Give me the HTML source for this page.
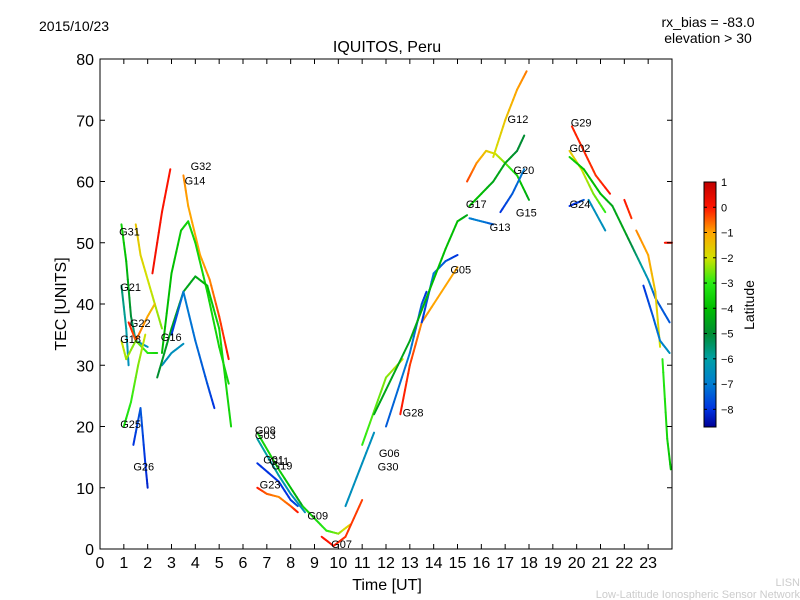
<!DOCTYPE html>
<html><head><meta charset="utf-8"><style>
html,body{margin:0;padding:0;background:#fff;width:800px;height:600px;overflow:hidden}
text{font-family:"Liberation Sans","DejaVu Sans",sans-serif}
</style></head><body>
<svg id="chart" width="800" height="600" viewBox="0 0 800 600" xmlns="http://www.w3.org/2000/svg">
<rect width="800" height="600" fill="#fff"/>
<text x="39" y="31" font-size="14">2015/10/23</text>
<text x="708" y="27" font-size="14" text-anchor="middle">rx_bias = -83.0</text>
<text x="708" y="43" font-size="14" text-anchor="middle">elevation &gt; 30</text>
<text x="387" y="52" font-size="16" text-anchor="middle">IQUITOS, Peru</text>
<g id="marks"></g>
<g id="labels"></g>
<rect x="100" y="59" width="572" height="490" fill="none" stroke="#000" stroke-width="1"/>
<g id="axes"></g>
<text x="387" y="590" font-size="16" text-anchor="middle">Time [UT]</text>
<text x="66" y="304" font-size="16" text-anchor="middle" transform="rotate(-90 66 304)">TEC [UNITS]</text>
<g id="cbar"></g>
<text x="754" y="305" font-size="14" text-anchor="middle" transform="rotate(-90 754 305)">Latitude</text>
<text x="800" y="586" font-size="11" fill="#ccc" text-anchor="end">LISN</text>
<text x="800" y="598" font-size="11" fill="#ccc" text-anchor="end">Low-Latitude Ionospheric Sensor Network</text>
</svg>
<script>
const xTicks=[0,1,2,3,4,5,6,7,8,9,10,11,12,13,14,15,16,17,18,19,20,21,22,23];
const yTicks=[0,10,20,30,40,50,60,70,80];
const cbTicks=[1,0,-1,-2,-3,-4,-5,-6,-7,-8];
// tracks: [times],[tec],[latitude]
const trackTimes=[
[2.2,2.6,2.95],
[3.5,3.7,4.2,4.6,5.0,5.4],
[2.6,3.0,3.4,3.7,4.0,4.5,5.0,5.4],
[0.9,1.1,1.3,1.5,2.0],
[1.5,1.7,2.0,2.3,2.6],
[0.9,1.1,1.2],
[1.2,1.5,2.0,2.3],
[0.9,1.1,1.5,2.0,2.4],
[2.6,3.0,3.5],
[2.4,3.0,3.5,4.0,4.5,5.0,5.5],
[3.0,3.5,4.0,4.5,4.8],
[1.0,1.3,1.6,1.9],
[1.4,1.7,1.9,2.0],
[6.6,7.5,8.0,8.5],
[6.6,7.5,8.0,8.6],
[6.6,7.5,8.0,8.3],
[6.6,7.0,7.5,8.0,8.3],
[8.5,9.0,9.5,10.0,10.5],
[9.3,9.8,10.3,11.0],
[10.3,11.0,11.5],
[11.0,12.0,12.7],
[12.6,13.0,13.5,14.0,15.0],
[12.0,13.0,13.5,13.7],
[13.5,14.0,14.5,15.0],
[11.5,13.0,14.0,14.5,15.0,15.4],
[15.4,15.8,16.2,16.6,17.0,17.5,18.0],
[16.5,17.0,17.5,17.9],
[15.5,16.0,16.5,17.0,17.5,17.8],
[15.5,16.0,16.5],
[16.8,17.3,17.8],
[19.8,20.3,20.8,21.4],
[19.7,20.2,20.7,21.2],
[19.7,20.0,20.3],
[19.7,20.3,21.0,21.5,22.0,22.5,23.0,23.3,23.9],
[20.5,21.2],
[22.0,22.3],
[22.5,23.0,23.3,23.5],
[22.8,23.2,23.5,23.9],
[23.7,24.0],
[23.6,23.8,23.95]];
const trackTec=[
[45,55,62],
[61,56,48,44,38,31],
[32,45,52,53.5,50,42,33,27],
[53,47,38,34,33],
[53,48,44,40,36],
[43,36,30],
[37,34,38,40],
[34,31,34,32,32],
[30,32,33.5],
[28,36,42,44.5,43,36,20],
[35,42,34,27,23],
[20,24,30,35],
[17,23,14,10],
[19,13,10,7],
[18,12,9,6],
[14,11,8,7],
[10,9,8.5,7,6],
[7,5,3,2.5,4],
[2,0.5,2,8],
[7,14,19],
[17,28,31],
[22,30,37,40,46],
[20,32,40,42],
[37,45,47,48],
[22,34,44,49,53.5,54.5],
[60,63,65,64.5,63,61,57],
[64,70,75,78],
[56,58,60,63,65,67.5],
[54,53.5,53],
[55,58,62],
[69,65,61,58],
[65,62,58,55],
[56,56.5,57],
[64,62,58,56,52,48,44,41,37],
[57,52],
[57,54],
[52,48,42,33],
[43,38,34,32],
[50,50],
[31,18,13]];
const trackLat=[
[0.2,0.1,0],
[-0.8,-1,-1,-0.8,-0.3,0],
[-4,-4,-3.8,-3.5,-3.5,-3.5,-3.5,-3.5],
[-3.5,-4,-5,-6,-6.5],
[-1.5,-1.7,-2,-2.2,-2.5],
[-5.5,-6,-6.5],
[0,-0.5,-1,-1.5],
[-2,-2.3,-2.5,-3,-3.5],
[-6.5,-6.5,-6.5],
[-5,-4.5,-4.5,-4.5,-4,-3.5,-3.5],
[-8,-7,-7.2,-7.6,-8],
[-3.5,-3,-2.5,-2],
[-8,-7.5,-8,-8.2],
[-3.5,-3.5,-4,-4.5],
[-6,-6,-6.5,-6.5],
[-8,-8,-8,-7.5],
[0,-0.5,-0.8,-0.5,0],
[-3.5,-3.5,-3,-2.5,-1.5],
[0,0,-0.2,-0.3],
[-6.5,-6.5,-6.5],
[-3,-2.5,-2],
[0,-0.2,-0.8,-1,-1],
[-7.5,-7,-7.5,-8],
[-8,-7,-7.5,-8],
[-4.5,-4.5,-4,-4,-4,-4.5],
[-0.3,-0.8,-1.5,-2,-2.5,-3.5,-4.5],
[-2,-1.5,-1,-0.7],
[-4,-4,-4.5,-4.5,-5,-5],
[-7,-7,-7.5],
[-8,-7.5,-7],
[-0.1,-0.1,-0.2,0],
[-1.5,-2,-2.5,-3],
[-8,-8,-7.5],
[-3.5,-4,-4,-4.5,-4.5,-5.5,-6.5,-7.5,-7.5],
[-6.5,-6.5],
[0,-0.2],
[-0.8,-1,-1.5,-2],
[-8,-7.5,-7,-6.5],
[0,0],
[-3,-3.5,-4]];
const labelNames=["G32","G14","G31","G21","G22","G18","G16","G25","G26","G08","G03","G01","G11","G19","G23","G09","G07","G06","G30","G28","G05","G17","G13","G15","G20","G12","G29","G02","G24"];
const labelT=[3.8,3.55,0.8,0.85,1.25,0.85,2.55,0.85,1.4,6.5,6.5,6.85,7.1,7.2,6.7,8.7,9.7,11.7,11.65,12.7,14.7,15.35,16.35,17.45,17.35,17.1,19.75,19.7,19.7];
const labelV=[62.5,60.2,51.8,42.8,36.9,34.3,34.6,20.4,13.5,19.4,18.6,14.6,14.4,13.6,10.5,5.5,0.8,15.7,13.5,22.3,45.6,56.3,52.6,54.9,61.9,70.2,69.6,65.5,56.3];

const X0=100,X1=672,Y0=549,Y1=59;
function xs(t){return X0+t/24*(X1-X0);}
function ys(v){return Y0-v/80*(Y0-Y1);}
const LMAX=1,LMIN=-8.7,CB0=182,CB1=427;
function lys(l){return CB0+(LMAX-l)/(LMAX-LMIN)*(CB1-CB0);}
const CM=[[1,[192,0,0]],[0,[255,20,0]],[-1,[255,165,0]],[-2,[210,225,0]],[-3,[40,235,20]],[-4,[0,190,0]],[-5,[0,140,50]],[-6,[0,160,165]],[-7,[0,125,210]],[-8,[0,50,225]],[-8.7,[0,0,150]]];
function jet(l){
 if(l>=CM[0][0])return `rgb(${CM[0][1]})`;
 for(let i=0;i<CM.length-1;i++){
  const a=CM[i],b=CM[i+1];
  if(l<=a[0]&&l>=b[0]){const f=(a[0]-l)/(a[0]-b[0]);
   return 'rgb('+[0,1,2].map(k=>Math.round(a[1][k]+(b[1][k]-a[1][k])*f)).join(',')+')';}
 }
 return `rgb(${CM[CM.length-1][1]})`;
}
const NS="http://www.w3.org/2000/svg";
function mk(tag,attrs,parent){const e=document.createElementNS(NS,tag);for(const k in attrs)e.setAttribute(k,attrs[k]);parent.appendChild(e);return e;}
const marks=document.getElementById('marks');
trackTimes.forEach((ts,i)=>{
 const g=mk('g',{},marks);
 
 
 for(let j=0;j<ts.length-1;j++){
  const n=6;
  for(let k=0;k<n;k++){
   const a=k/n,b=(k+1)/n;
   const t0=ts[j]+(ts[j+1]-ts[j])*a,t1=ts[j]+(ts[j+1]-ts[j])*b;
   const v0=trackTec[i][j]+(trackTec[i][j+1]-trackTec[i][j])*a,v1=trackTec[i][j]+(trackTec[i][j+1]-trackTec[i][j])*b;
   const l=trackLat[i][j]+(trackLat[i][j+1]-trackLat[i][j])*(a+b)/2;
   const s=mk('line',{x1:xs(t0),y1:ys(v0),x2:xs(t1),y2:ys(v1),stroke:jet(l),'stroke-width':2,'stroke-linecap':'round'},g);
   
   
  }
 }
});
const lab=document.getElementById('labels');
labelNames.forEach((n,i)=>{
 const t=mk('text',{x:xs(labelT[i]),y:ys(labelV[i])+4,'font-size':11},lab);
 
 
 t.textContent=n;
});
const ax=document.getElementById('axes');
xTicks.forEach(v=>{
 const x=xs(v);
 mk('line',{x1:x,y1:Y0,x2:x,y2:Y0-5,stroke:'#000'},ax);
 mk('line',{x1:x,y1:Y1,x2:x,y2:Y1+5,stroke:'#000'},ax);
 const t=mk('text',{x:x,y:568,'font-size':16,'text-anchor':'middle'},ax);
 
 
 t.textContent=v;
});
yTicks.forEach(v=>{
 const y=ys(v);
 mk('line',{x1:X0,y1:y,x2:X0+5,y2:y,stroke:'#000'},ax);
 mk('line',{x1:X1,y1:y,x2:X1-5,y2:y,stroke:'#000'},ax);
 const t=mk('text',{x:94,y:y+6,'font-size':16,'text-anchor':'end'},ax);
 
 
 t.textContent=v;
});
const cb=document.getElementById('cbar');
for(let y=CB0;y<CB1;y++){
 const l=LMAX-(y-CB0+0.5)/(CB1-CB0)*(LMAX-LMIN);
 mk('rect',{x:704,y:y,width:12,height:1.2,fill:jet(l)},cb);
}
mk('rect',{x:704,y:CB0,width:12,height:CB1-CB0,fill:'none',stroke:'#000'},cb);
cbTicks.forEach(v=>{
 const y=lys(v);
 mk('line',{x1:704,y1:y,x2:707,y2:y,stroke:'#000'},cb);
 mk('line',{x1:716,y1:y,x2:713,y2:y,stroke:'#000'},cb);
 const t=mk('text',{x:721,y:y+4,'font-size':11},cb);
 
 
 t.textContent=v<0?'\u2212'+(-v):String(v);
});
</script>
</body></html>
